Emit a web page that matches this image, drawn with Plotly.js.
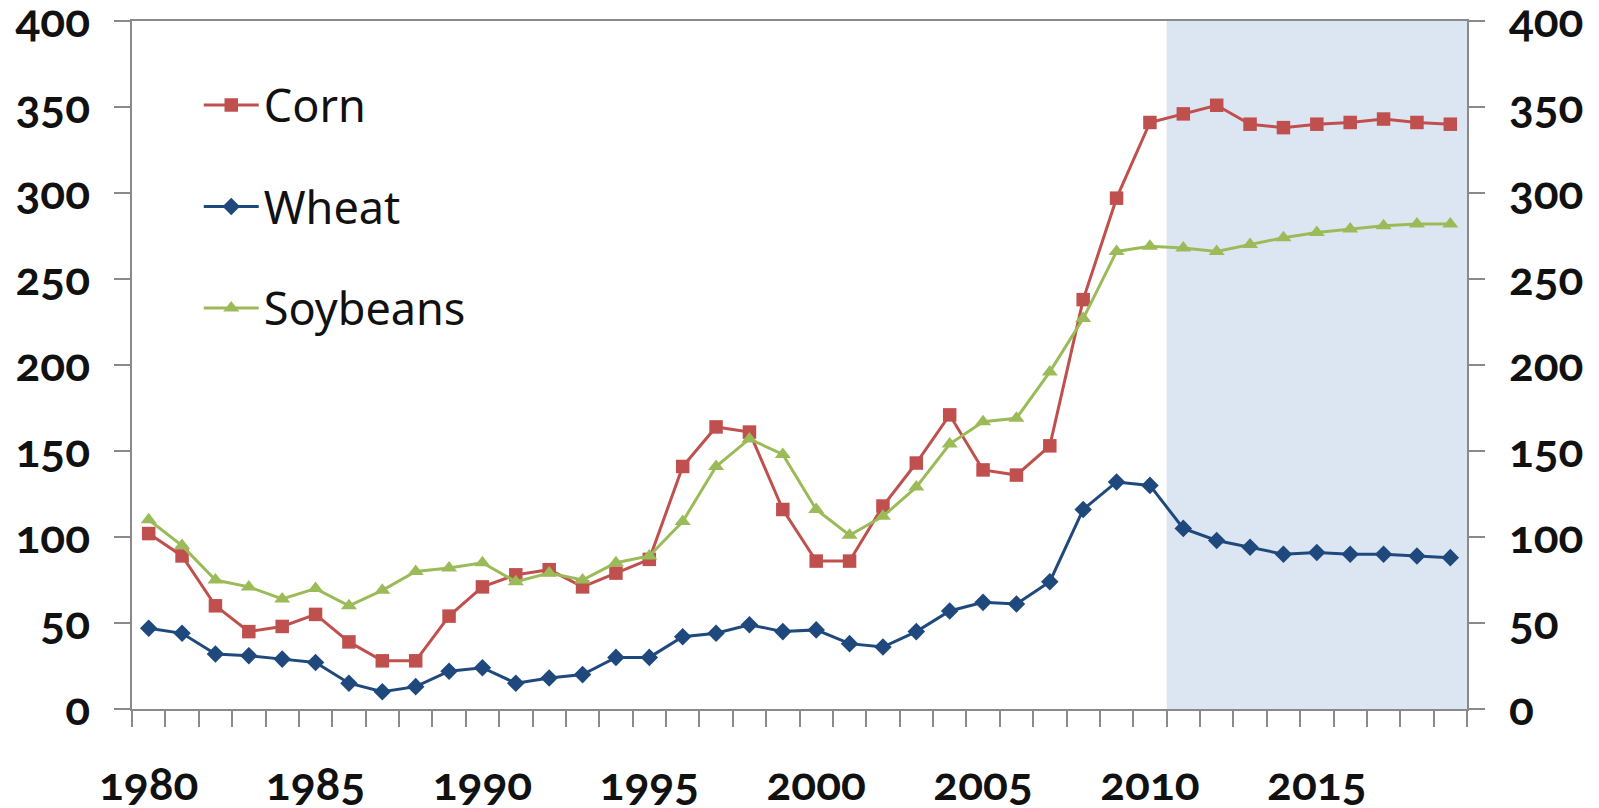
<!DOCTYPE html>
<html><head><meta charset="utf-8">
<script src="https://cdn.plot.ly/plotly-3.0.1.min.js"></script>
<style>
html,body{margin:0;padding:0;background:#fff;}
#chart{width:1599px;height:808px;}
.xtick text, .ytick text, .y2tick text { font-variant-numeric: oldstyle-nums !important; font-feature-settings: "onum" 1 !important; }
</style></head><body><div id="chart"></div>
<script>
const years = [1980,1981,1982,1983,1984,1985,1986,1987,1988,1989,
               1990,1991,1992,1993,1994,1995,1996,1997,1998,1999,
               2000,2001,2002,2003,2004,2005,2006,2007,2008,2009,
               2010,2011,2012,2013,2014,2015,2016,2017,2018,2019];
const corn = [102,89,60,45,48,55,39,28,28,54,
              71,78,81,71,79,87,141,164,161,116,
              86,86,118,143,171,139,136,153,238,297,
              341,346,351,340,338,340,341,343,341,340];
const wheat = [47,44,32,31,29,27,15,10,13,22,
               24,15,18,20,30,30,42,44,49,45,
               46,38,36,45,57,62,61,74,116,132,
               130,105,98,94,90,91,90,90,89,88];
const soybeans = [110,95,75,71,64,70,60,69,80,82,
                  85,74,79,75,85,89,109,141,157,148,
                  116,101,112,129,154,167,169,196,227,266,
                  269,268,266,270,274,277,279,281,282,282];
const tickYears = [1980,1985,1990,1995,2000,2005,2010,2015];
const tickLabels = ["1980","1985","1990","1995","2000","2005","2010","2015"];
const yTicks = [0,50,100,150,200,250,300,350,400];
const projectionYears = [2011, 2019];

const axisGray = '#8a8a8a';
const tickFont = {family: 'Lato, Noto Sans, sans-serif', size: 46, color: '#111', weight: 700};

function series(name, y, color, symbol, group) {
  return {
    x: years, y: y, name: name, type: 'scatter', mode: 'lines+markers',
    legendgroup: group,
    line: {color: color, width: 3},
    marker: {color: color, symbol: symbol, size: symbol === 'triangle-up' ? 14 : 13.5,
             line: {width: 0}},
    hoverinfo: 'x+y+name'
  };
}

const data = [
  series('Corn', corn, '#C0504D', 'square', 'g1'),
  series('Wheat', wheat, '#1F497D', 'diamond', 'g2'),
  series('Soybeans', soybeans, '#9BBB59', 'triangle-up', 'g3'),
  // invisible companion so the right-hand axis gets drawn
  {x: years, y: corn, yaxis: 'y2', type: 'scatter', mode: 'lines', opacity: 0,
   line: {width: 0}, showlegend: false, hoverinfo: 'skip'}
];

const commonY = {
  range: [0, 400], tickmode: 'array', tickvals: yTicks,
  ticks: 'outside', ticklen: 16, tickcolor: axisGray, tickwidth: 1.5,
  tickfont: tickFont, ticklabelstandoff: 15, ticklabeloverflow: 'allow',
  showline: true, linecolor: axisGray, linewidth: 1.5,
  showgrid: false, zeroline: false
};

const layout = {
  width: 1599, height: 808,
  margin: {l: 132, r: 132, t: 21, b: 99, pad: 0},
  paper_bgcolor: '#fff', plot_bgcolor: '#fff',
  showlegend: true,
  legend: {
    x: 0.050, y: 0.93, xanchor: 'left', yanchor: 'top',
    itemwidth: 55,
    font: {family: 'Noto Sans, Lato, sans-serif', size: 45, color: '#111'},
    bgcolor: 'rgba(0,0,0,0)', tracegroupgap: 40, traceorder: 'grouped'
  },
  xaxis: {
    type: 'linear', range: [years[0] - 0.5, years[years.length - 1] + 0.5],
    tickmode: 'array', tickvals: tickYears, ticktext: tickLabels,
    ticks: '', tickfont: tickFont, ticklabelstandoff: 34, ticklabeloverflow: 'allow',
    showline: true, linecolor: axisGray, linewidth: 1.5, mirror: true,
    showgrid: false, zeroline: false,
    minor: {tick0: years[0] - 0.5, dtick: 1, ticks: 'outside', ticklen: 16,
            tickcolor: axisGray, tickwidth: 1.5, showgrid: false}
  },
  yaxis: Object.assign({}, commonY, {mirror: true}),
  yaxis2: Object.assign({}, commonY, {overlaying: 'y', side: 'right'}),
  shapes: [{
    type: 'rect', xref: 'x', yref: 'paper',
    x0: projectionYears[0] - 0.5, x1: projectionYears[1] + 0.5, y0: 0, y1: 1,
    fillcolor: '#DCE6F2', line: {width: 0}, layer: 'below'
  }]
};

Plotly.newPlot('chart', data, layout, {displayModeBar: false, responsive: false});
</script>
</body></html>
